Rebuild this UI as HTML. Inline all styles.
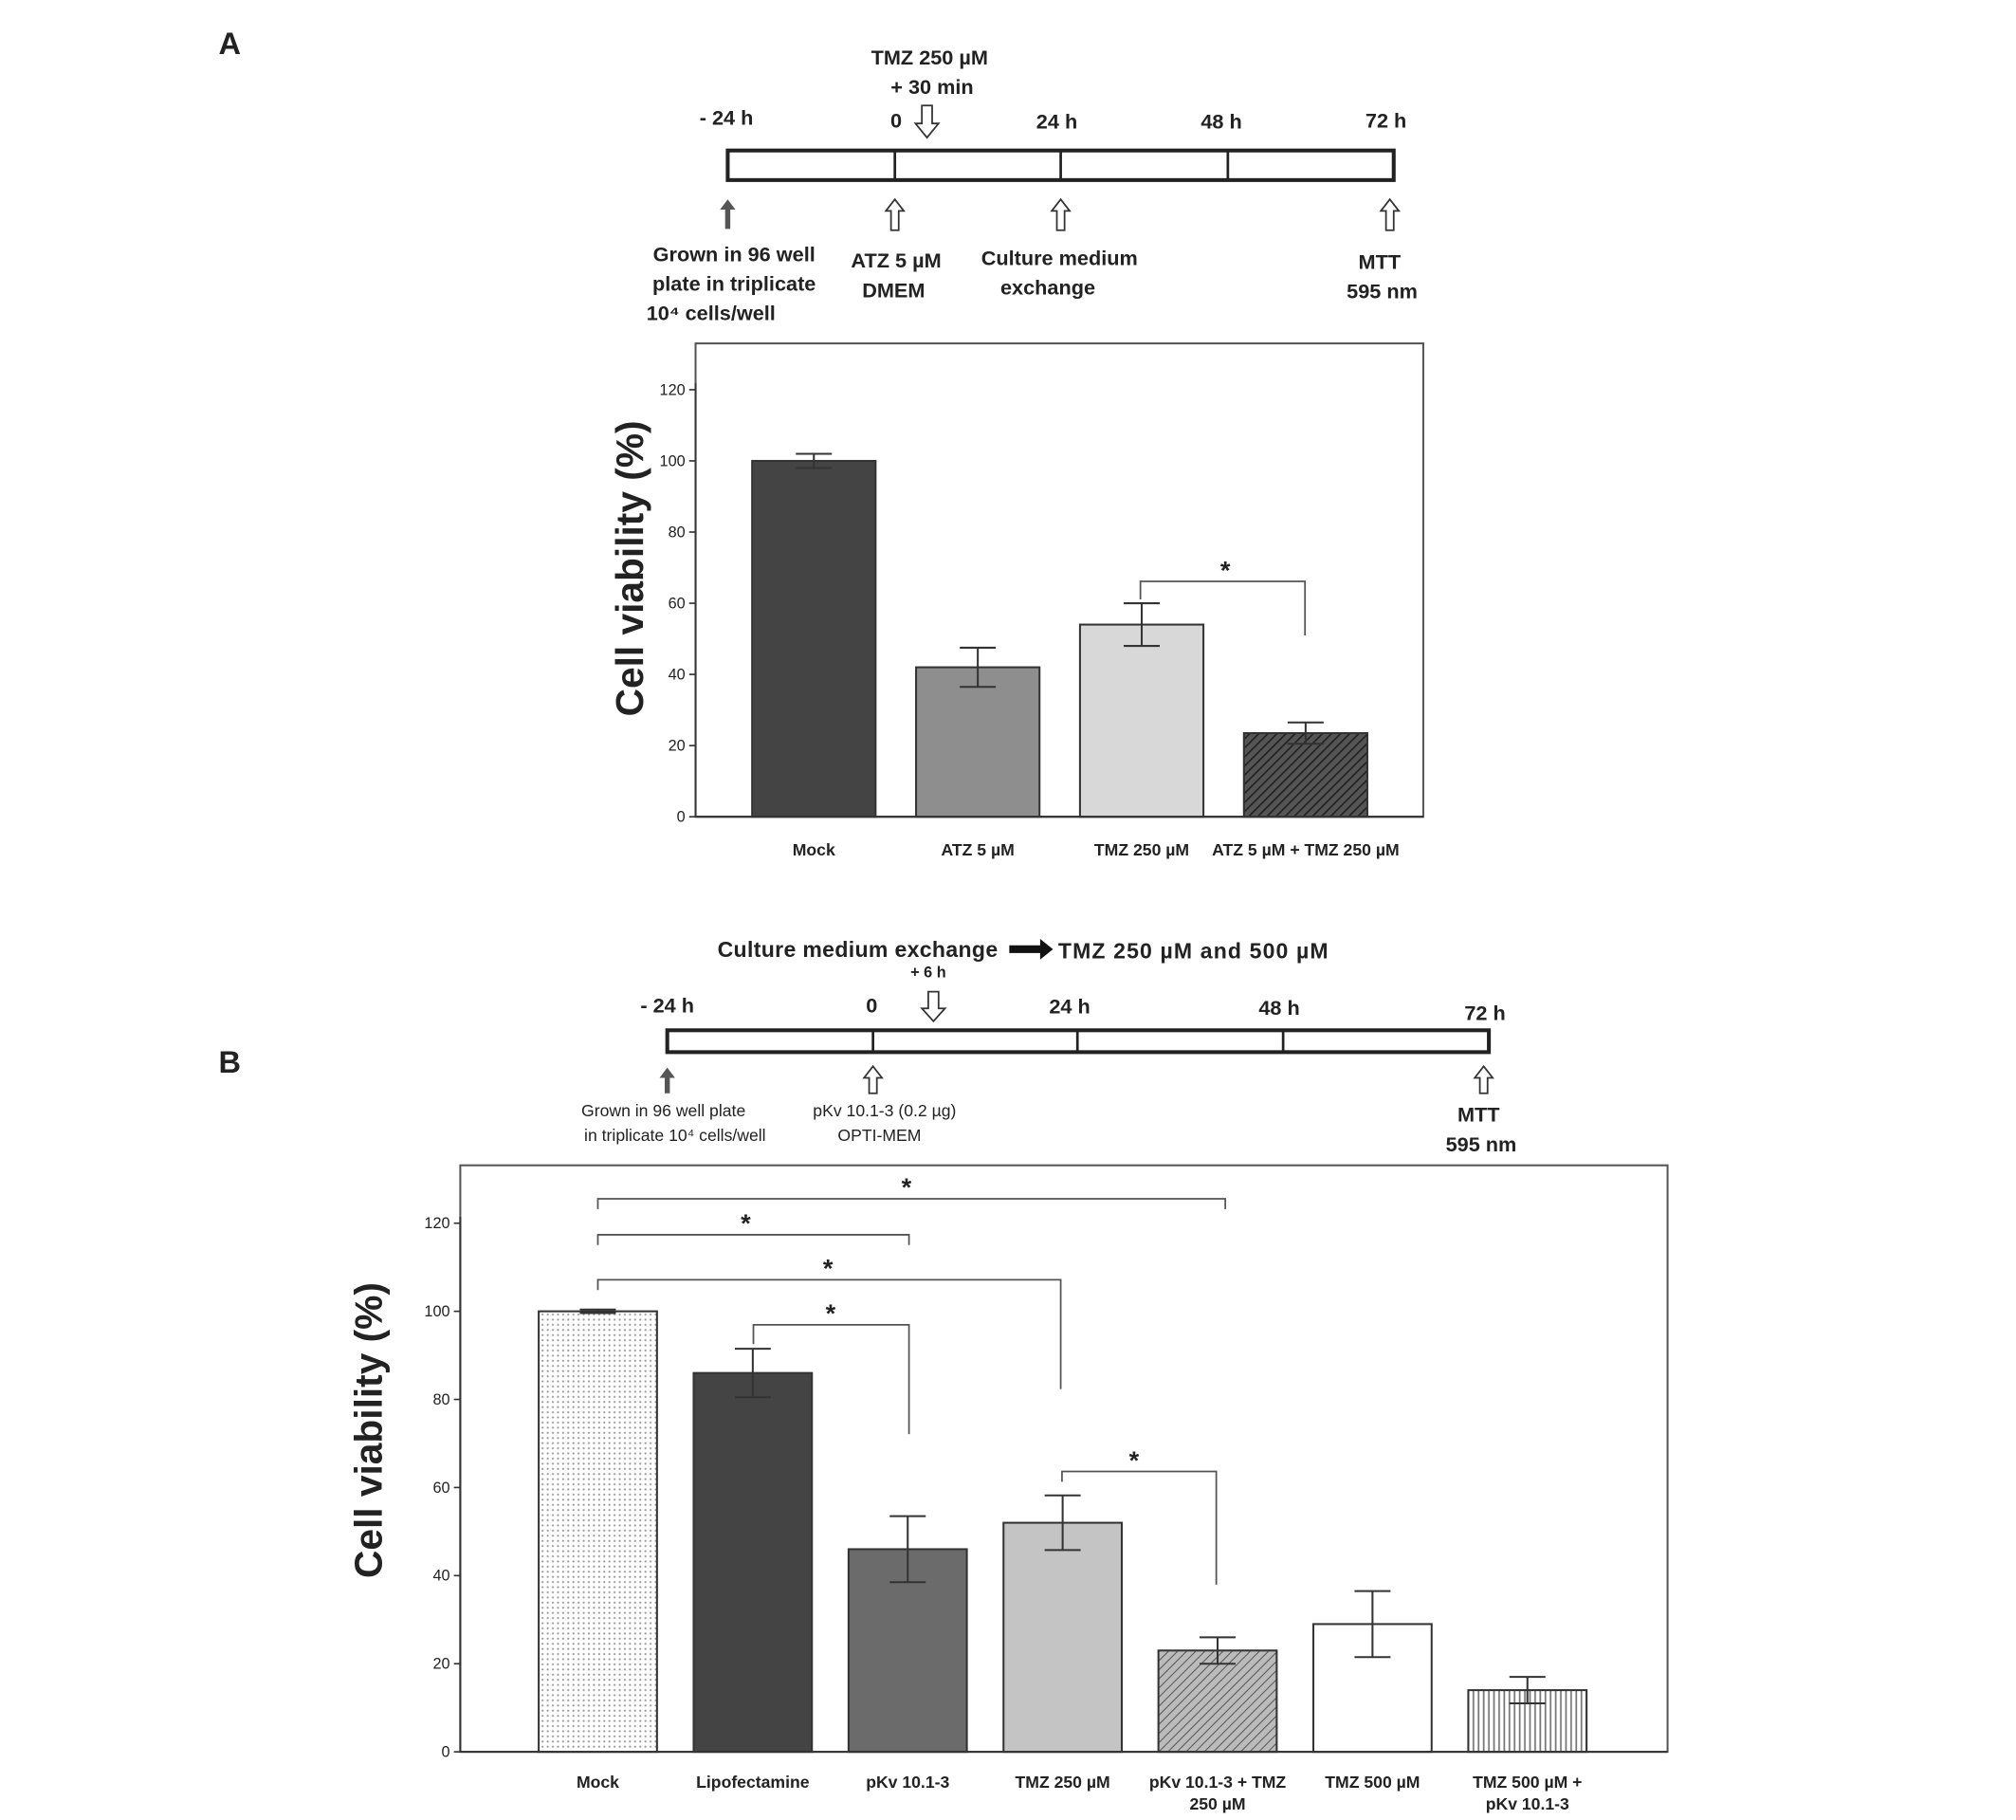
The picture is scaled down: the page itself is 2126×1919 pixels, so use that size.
<!DOCTYPE html>
<html><head><meta charset="utf-8"><style>
html,body{margin:0;padding:0;background:#fff}
svg{display:block}
text{font-family:"Liberation Sans","DejaVu Sans",sans-serif;fill:#222}
.b{font-weight:bold}
</style></head><body>
<svg id="fig" width="2126" height="1919" viewBox="0 0 1568 1415" preserveAspectRatio="none">
<defs>
<pattern id="hatch" width="5" height="5" patternUnits="userSpaceOnUse" patternTransform="rotate(45)"><rect width="5" height="5" fill="#555"/><line x1="0" y1="0" x2="0" y2="5" stroke="#222" stroke-width="2.5"/></pattern>
<pattern id="dots" width="4" height="4" patternUnits="userSpaceOnUse"><rect width="4" height="4" fill="#fff"/><circle cx="2" cy="2" r="0.8" fill="#999"/></pattern>
<pattern id="vlines" width="4" height="4" patternUnits="userSpaceOnUse"><rect width="4" height="4" fill="#fff"/><line x1="2" y1="0" x2="2" y2="4" stroke="#777" stroke-width="1.3"/></pattern>
<pattern id="hatch2" width="5" height="5" patternUnits="userSpaceOnUse" patternTransform="rotate(45)"><rect width="5" height="5" fill="#bbb"/><line x1="0" y1="0" x2="0" y2="5" stroke="#555" stroke-width="1.5"/></pattern>
</defs>
<text x="170" y="42" font-family="Liberation Serif" font-size="24" class="b">A</text>
<text x="170" y="834" font-family="Liberation Serif" font-size="24" class="b">B</text>
<g id="tlA">
<rect x="566" y="117" width="518" height="23" fill="none" stroke="#222" stroke-width="3"/>
<line x1="696" y1="117" x2="696" y2="140" stroke="#222" stroke-width="2"/>
<line x1="825" y1="117" x2="825" y2="140" stroke="#222" stroke-width="2"/>
<line x1="955" y1="117" x2="955" y2="140" stroke="#222" stroke-width="2"/>
<g font-size="16" class="b" text-anchor="middle">
<text x="565" y="97" class="b">- 24 h</text><text x="697" y="99" class="b">0</text><text x="822" y="100" class="b">24 h</text><text x="950" y="100" class="b">48 h</text><text x="1078" y="99" class="b">72 h</text>
<text x="723" y="50" class="b">TMZ 250 µM</text><text x="725" y="73" class="b">+ 30 min</text>
<text x="571" y="203" class="b">Grown in 96 well</text><text x="571" y="226" class="b">plate in triplicate</text><text x="553" y="249" class="b">10⁴ cells/well</text>
<text x="697" y="208" class="b">ATZ 5 µM</text><text x="695" y="231" class="b">DMEM</text>
<text x="824" y="206" class="b">Culture medium</text><text x="815" y="229" class="b">exchange</text>
<text x="1073" y="209" class="b">MTT</text><text x="1075" y="232" class="b">595 nm</text>
</g>
<path d="M717 82h8v14h5l-9 11l-9-11h5z" fill="#fff" stroke="#333" stroke-width="1.3"/>
<path d="M566 155l-6 8h4v15h4v-15h4z" fill="#555"/>
<path d="M696 155l-7 9h4v15h6v-15h4z" fill="#fff" stroke="#333" stroke-width="1.3"/>
<path d="M825 155l-7 9h4v15h6v-15h4z" fill="#fff" stroke="#333" stroke-width="1.3"/>
<path d="M1081 155l-7 9h4v15h6v-15h4z" fill="#fff" stroke="#333" stroke-width="1.3"/>
</g>
<g id="chartA"></g>
<g id="tlB">
<rect x="519" y="801" width="639" height="17" fill="none" stroke="#222" stroke-width="3"/>
<line x1="679" y1="801" x2="679" y2="818" stroke="#222" stroke-width="2"/>
<line x1="838" y1="801" x2="838" y2="818" stroke="#222" stroke-width="2"/>
<line x1="998" y1="801" x2="998" y2="818" stroke="#222" stroke-width="2"/>
<text x="776" y="744" font-size="17" class="b" text-anchor="end" textLength="218">Culture medium exchange</text>
<text x="823" y="745" font-size="17" class="b" text-anchor="start" textLength="210">TMZ 250 µM and 500 µM</text>
<g font-size="16" text-anchor="middle">
<text x="722" y="760" font-size="12" class="b">+ 6 h</text>
<text x="519" y="787" class="b">- 24 h</text><text x="678" y="787" class="b">0</text><text x="832" y="788" class="b">24 h</text><text x="995" y="789" class="b">48 h</text><text x="1155" y="793" class="b">72 h</text>
<text x="516" y="868" font-size="13">Grown in 96 well plate</text><text x="525" y="887" font-size="13">in triplicate 10⁴ cells/well</text>
<text x="688" y="868" font-size="13">pKv 10.1-3 (0.2 µg)</text><text x="684" y="887" font-size="13">OPTI-MEM</text>
<text x="1150" y="872" class="b">MTT</text><text x="1152" y="895" class="b">595 nm</text>
</g>
<path d="M785 735h24v-5l10 8l-10 8v-5h-24z" fill="#111"/>
<path d="M722 771h8v13h5l-9 10l-9-10h5z" fill="#fff" stroke="#333" stroke-width="1.3"/>
<path d="M519 830l-6 8h4v12h4v-12h4z" fill="#555"/>
<path d="M679 829l-7 9h4v12h6v-12h4z" fill="#fff" stroke="#333" stroke-width="1.3"/>
<path d="M1154 829l-7 9h4v12h6v-12h4z" fill="#fff" stroke="#333" stroke-width="1.3"/>
</g>
<g id="chartB"></g>
</svg>
<script>
const NS="http://www.w3.org/2000/svg";
const catsA=["Mock","ATZ 5 µM","TMZ 250 µM","ATZ 5 µM + TMZ 250 µM"];
const valsA=[100,42,54,23.5];
const errA=[2,5.5,6,3];
const fillsA=["#444","#8e8e8e","#d8d8d8","url(#hatch)"];
const ticksA=[0,20,40,60,80,100,120];
const catsB=[["Mock"],["Lipofectamine"],["pKv 10.1-3"],["TMZ 250 µM"],["pKv 10.1-3 + TMZ","250 µM"],["TMZ 500 µM"],["TMZ 500 µM +","pKv 10.1-3"]];
const valsB=[100,86,46,52,23,29,14];
const errB=[0.4,5.5,7.5,6.2,3,7.5,3];
const fillsB=["url(#dots)","#444","#6b6b6b","#c4c4c4","url(#hatch2)","#fff","url(#vlines)"];
const ticksB=[0,20,40,60,80,100,120];
function mk(p,tag,a,txt){const e=document.createElementNS(NS,tag);for(const k in a)e.setAttribute(k,a[k]);if(txt!==undefined)e.textContent=txt;p.appendChild(e);return e;}
function chart(g,o){
 const y=v=>o.y0-(v/120)*(o.y0-o.y120);
 const x=i=>o.x0+o.step*i;
 mk(g,"rect",{x:o.bx,y:o.by,width:o.bw,height:o.bh,fill:"none",stroke:"#555","stroke-width":1.5});
 mk(g,"line",{x1:o.ax,y1:o.y0,x2:o.ax,y2:y(120)-5,stroke:"#333","stroke-width":1.5});
 o.ticks.forEach(t=>{mk(g,"line",{x1:o.ax-5,y1:y(t),x2:o.ax,y2:y(t),stroke:"#333","stroke-width":1.2});
  const tl=mk(g,"text",{x:o.ax-8,y:y(t)+4,"font-size":12,"text-anchor":"end"},t);
  
  });
 const yt=mk(g,"text",{x:0,y:0,"font-size":30,"font-weight":"bold","text-anchor":"middle",transform:`translate(${o.ytx},${o.yty}) rotate(-90)`},"Cell viability (%)");
 
 
 o.vals.forEach((v,i)=>{
  const cx=x(i);
  const r=mk(g,"rect",{x:cx-o.w/2,y:y(v),width:o.w,height:o.y0-y(v),fill:o.fills[i],stroke:"#333","stroke-width":1.5});
  
  
  const e=o.err[i];
  mk(g,"path",{d:`M${cx} ${y(v+e)}V${y(v-e)}M${cx-14} ${y(v+e)}H${cx+14}M${cx-14} ${y(v-e)}H${cx+14}`,stroke:"#333","stroke-width":1.5,fill:"none"});
  const lab=[].concat(o.cats[i]);
  lab.forEach((s,j)=>{const t=mk(g,"text",{x:cx,y:o.ly+j*17,"font-size":13,"font-weight":"bold","text-anchor":"middle"},s);
   
   });
 });
 mk(g,"line",{x1:o.ax,y1:o.y0,x2:o.bx+o.bw,y2:o.y0,stroke:"#333","stroke-width":1.5});
 return {x,y};
}
const A=chart(document.getElementById("chartA"),{bx:541,by:267,bw:566,bh:368,ax:541,y0:635,y120:303,x0:633,step:127.5,w:96,vals:valsA,err:errA,fills:fillsA,cats:catsA,ticks:ticksA,ytx:500,yty:442,ly:665});
const B=chart(document.getElementById("chartB"),{bx:358,by:906,bw:939,bh:456,ax:358,y0:1362,y120:951,x0:465,step:120.5,w:92,vals:valsB,err:errB,fills:fillsB,cats:catsB,ticks:ticksB,ytx:297,yty:1112,ly:1390});
function bracket(g,x1,x2,yy,d1,d2,sx){
 mk(g,"path",{d:`M${x1} ${d1}V${yy}H${x2}V${d2}`,fill:"none",stroke:"#555","stroke-width":1.3});
 const s=mk(g,"text",{x:sx,y:yy-2,"font-size":20,"font-weight":"bold","text-anchor":"middle"},"*");
 
 
}
const gA=document.getElementById("chartA"),gB=document.getElementById("chartB");
bracket(gA,887,1015,452,466,494,953);
bracket(gB,465,953,932,940,940,705);
bracket(gB,465,707,960,968,968,580);
bracket(gB,465,825,995,1003,1080,644);
bracket(gB,586,707,1030,1045,1115,646);
bracket(gB,826,946,1144,1152,1232,882);
</script>
</body></html>
